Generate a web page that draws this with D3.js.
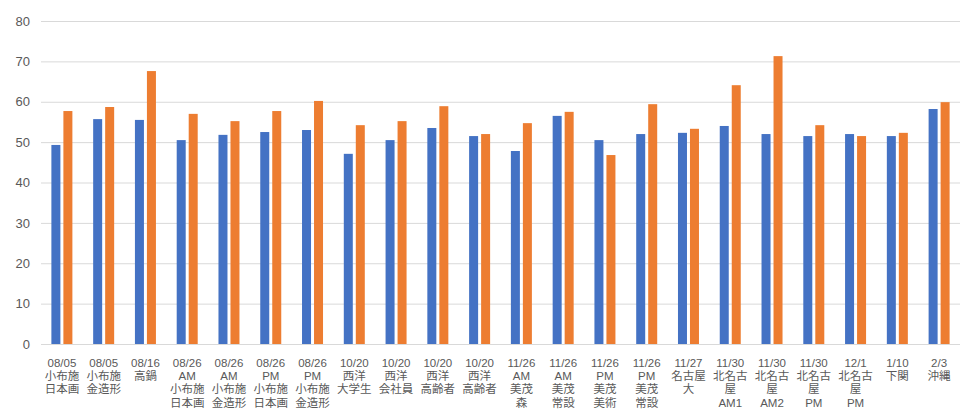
<!DOCTYPE html>
<html>
<head>
<meta charset="utf-8">
<script src="https://cdn.jsdelivr.net/npm/d3@7"></script>
<style>
  body { margin: 0; background: #fff; }
  text { font-family: "Liberation Sans", Arial, "Noto Sans CJK JP", sans-serif; fill: #595959; }
</style>
</head>
<body>
<script>
// categories (one line of the label per entry, joined with \n)
var categories = [
  "08/05\n小布施\n日本画", "08/05\n小布施\n金造形", "08/16\n高鍋",
  "08/26\nAM\n小布施\n日本画", "08/26\nAM\n小布施\n金造形",
  "08/26\nPM\n小布施\n日本画", "08/26\nPM\n小布施\n金造形",
  "10/20\n西洋\n大学生", "10/20\n西洋\n会社員", "10/20\n西洋\n高齢者", "10/20\n西洋\n高齢者",
  "11/26\nAM\n美茂\n森", "11/26\nAM\n美茂\n常設", "11/26\nPM\n美茂\n美術", "11/26\nPM\n美茂\n常設",
  "11/27\n名古屋\n大", "11/30\n北名古\n屋\nAM1", "11/30\n北名古\n屋\nAM2", "11/30\n北名古\n屋\nPM",
  "12/1\n北名古\n屋\nPM", "1/10\n下関", "2/3\n沖縄"
];
var seriesBlue   = [49.3, 55.7, 55.5, 50.5, 51.8, 52.5, 53.0, 47.1, 50.5, 53.5, 51.5,
                    47.8, 56.5, 50.5, 52.0, 52.3, 54.0, 52.0, 51.5, 52.0, 51.5, 58.2];
var seriesOrange = [57.7, 58.7, 67.6, 57.0, 55.2, 57.7, 60.2, 54.2, 55.2, 58.9, 52.0,
                    54.7, 57.5, 46.8, 59.4, 53.3, 64.1, 71.3, 54.2, 51.5, 52.3, 59.9];
var yTicks = [0, 10, 20, 30, 40, 50, 60, 70, 80];

var width = 968;
var height = 414;
var padding = { top: 21, right: 8, bottom: 70, left: 41 };

var svg = d3.select('body')
  .append('svg')
  .attr('width', width)
  .attr('height', height);

var xScale = d3.scaleBand()
  .domain(d3.range(categories.length))
  .range([padding.left, width - padding.right])
  .paddingInner(0)
  .paddingOuter(0);

var yScale = d3.scaleLinear()
  .domain([0, 80])
  .range([height - padding.bottom, padding.top]);

var subScale = d3.scaleBand()
  .domain([0, 1])
  .range([xScale.bandwidth() / 2 - 10.5, xScale.bandwidth() / 2 + 10.5])
  .paddingInner(0.25);

// gridlines
var yAxis = d3.axisLeft(yScale)
  .tickValues(yTicks)
  .tickSize(-(width - padding.left - padding.right))
  .tickPadding(11)
  .tickFormat(d3.format('d'));

var yg = svg.append('g')
  .attr('class', 'yaxis')
  .attr('transform', 'translate(' + padding.left + ',0)')
  .call(yAxis);
yg.select('.domain').remove();
yg.selectAll('line').attr('stroke', '#d9d9d9').attr('stroke-width', 1);
yg.selectAll('text').attr('font-size', 13).style('fill', '#595959');

var series = [seriesBlue, seriesOrange];
var colors = ['#4472C4', '#ED7D31'];

series.forEach(function (vals, s) {
  svg.append('g')
    .selectAll('rect')
    .data(vals)
    .enter()
    .append('rect')
    .attr('x', function (d, i) { return xScale(i) + subScale(s); })
    .attr('y', function (d) { return yScale(d); })
    .attr('width', subScale.bandwidth())
    .attr('height', function (d) { return yScale(0) - yScale(d); })
    .attr('fill', colors[s]);
});

// x labels
var xl = svg.append('g')
  .selectAll('text')
  .data(categories)
  .enter()
  .append('text')
  .attr('text-anchor', 'middle')
  .attr('font-size', 11.5)
  .attr('transform', function (d, i) {
    return 'translate(' + (xScale(i) + xScale.bandwidth() / 2) + ',' + (yScale(0) + 23) + ')';
  });

xl.selectAll('tspan')
  .data(function (d) { return d.split('\n'); })
  .enter()
  .append('tspan')
  .attr('x', 0)
  .attr('dy', function (d, i) { return i === 0 ? 0 : 13.2; })
  .text(function (d) { return d; });
</script>
</body>
</html>
